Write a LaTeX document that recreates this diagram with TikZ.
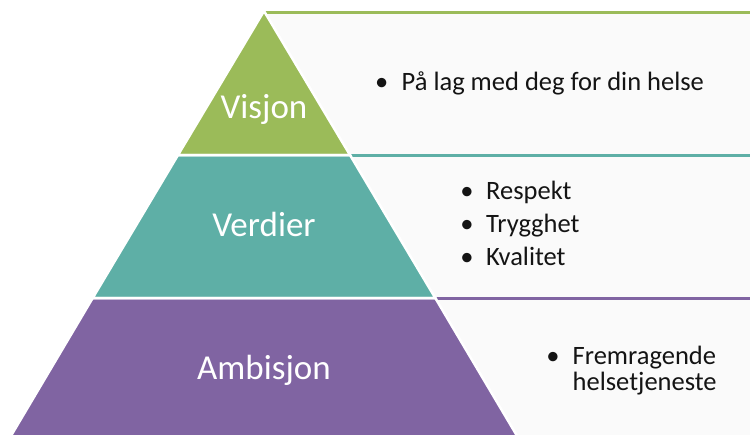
\documentclass[tikz,border=0pt]{standalone}
\usepackage{fontspec}
\setmainfont{Carlito}
\definecolor{vgreen}{RGB}{155,187,89}
\definecolor{vteal}{RGB}{94,175,166}
\definecolor{vpurple}{RGB}{128,100,162}
\definecolor{boxfill}{RGB}{250,250,250}
\definecolor{txt}{RGB}{20,20,20}
\tikzset{
  layer/.style={draw=white, line width=2.5pt, line join=miter},
  rowbox/.style={fill=boxfill, draw=none},
  topline/.style={line width=2.6pt},
  lbl/.style={text=white, anchor=base, inner sep=0pt, font=\fontsize{35}{40}\selectfont},
  item/.style={text=txt, anchor=base west, inner sep=0pt, align=left, font=\fontsize{26.5}{26}\selectfont},
  bul/.style={text=txt, anchor=base, inner sep=0pt, font=\fontsize{26.5}{26}\selectfont}
}
\begin{document}
\begin{tikzpicture}[x=1pt, y=-1pt]
\useasboundingbox (0,0) rectangle (750,434);
% row boxes
\fill[rowbox] (264,12.5) rectangle (752,155);
\fill[rowbox] (264,155.5) rectangle (752,298);
\fill[rowbox] (264,298.5) rectangle (752,436);
\coordinate (g1) at (264,12.5);  \coordinate (g2) at (752,12.5);
\coordinate (t1) at (264,155.5); \coordinate (t2) at (752,155.5);
\coordinate (p1) at (264,298.5); \coordinate (p2) at (752,298.5);
\draw[topline, vgreen] (g1) -- (g2);
\draw[topline, vteal] (t1) -- (t2);
\draw[topline, vpurple] (p1) -- (p2);
% pyramid layers
\fill[vgreen] (264,11) -- (350,155) -- (178,155) -- cycle;
\fill[vteal] (178,155) -- (350,155) -- (435.3,298) -- (92.7,298) -- cycle;
\fill[vpurple] (92.7,298) -- (435.3,298) -- (519.5,440) -- (8.5,440) -- cycle;
\draw[layer] (264,11) -- (350,155) -- (178,155) -- cycle;
\draw[layer] (178,155) -- (350,155) -- (435.3,298) -- (92.7,298) -- cycle;
\draw[layer] (92.7,298) -- (435.3,298) -- (519.5,440) -- (8.5,440) -- cycle;
% labels
\node[lbl] (visjon) at (264,118) {Visjon};
\node[lbl] (verdier) at (264,236) {Verdier};
\node[lbl] (ambisjon) at (264,379) {Ambisjon};
% bullet items
\node[bul] (b1) at (381.7,90.7) {•};
\node[item] (i1) at (401.5,90.7) {På lag med deg for din helse};
\node[bul] (b2) at (467,199) {•};
\node[item] (i2) at (486,199) {Respekt};
\node[bul] (b3) at (467,232) {•};
\node[item] (i3) at (486,232) {Trygghet};
\node[bul] (b4) at (467,265) {•};
\node[item] (i4) at (486,265) {Kvalitet};
\node[bul] (b5) at (553,364.3) {•};
\node[item] (i5) at (572.5,390.3) {Fremragende\\helsetjeneste};
\end{tikzpicture}
\end{document}
